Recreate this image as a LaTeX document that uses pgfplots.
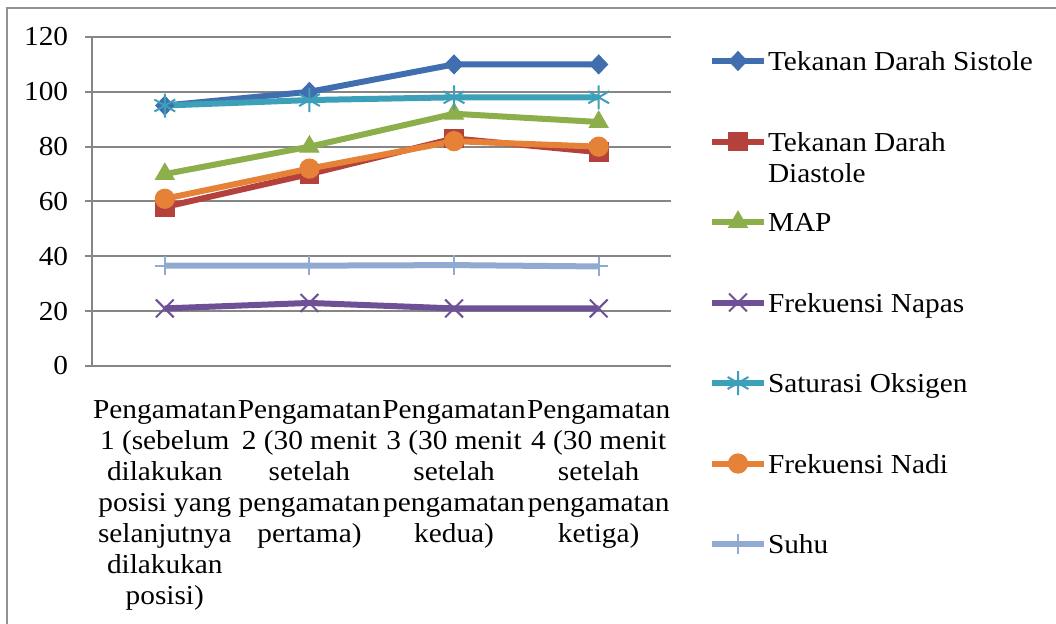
\documentclass[border=0pt]{standalone}
\usepackage{fontspec}
\setmainfont{Liberation Serif}[FakeStretch=1.07]
\usepackage{pgfplots}
\pgfplotsset{compat=1.18}
\definecolor{cSis}{RGB}{65,110,175}
\definecolor{cDia}{RGB}{180,65,60}
\definecolor{cMap}{RGB}{140,175,75}
\definecolor{cNap}{RGB}{110,80,150}
\definecolor{cSat}{RGB}{60,160,185}
\definecolor{cNad}{RGB}{230,130,55}
\definecolor{cSuh}{RGB}{145,170,210}
\definecolor{cGrid}{RGB}{134,134,134}
\newcommand{\chartfont}{\fontsize{13.7pt}{15.5pt}\selectfont}
\begin{document}
\begin{tikzpicture}[font=\chartfont]
\useasboundingbox (0,0) rectangle (528pt,312pt);
\fill[white] (0,0) rectangle (528pt,312pt);
\begin{axis}[
  at={(46.25pt,129pt)}, anchor=south west,
  scale only axis, width=289.25pt, height=164.5pt,
  xmin=-0.5, xmax=3.5, ymin=0, ymax=120,
  ytick={0,20,...,120},
  xtick={0,1,2,3},
  xticklabels={
    {Pengamatan\\1 (sebelum\\dilakukan\\posisi yang\\selanjutnya\\dilakukan\\posisi)},
    {Pengamatan\\2 (30 menit\\setelah\\pengamatan\\pertama)},
    {Pengamatan\\3 (30 menit\\setelah\\pengamatan\\kedua)},
    {Pengamatan\\4 (30 menit\\setelah\\pengamatan\\ketiga)}},
  minor xtick={-0.5,0.5,1.5,2.5,3.5},
  x axis line style={-},
  axis x line*=bottom, axis y line*=left,
  axis line style={cGrid, line width=1pt},
  tick align=outside,
  tick style={cGrid, line width=1pt},
  xtick style={draw=none},
  minor x tick style={cGrid, line width=1pt},
  major tick length=3.5pt, minor tick length=3.5pt,
  ymajorgrids, grid style={cGrid, line width=1pt},
  /pgf/number format/assume math mode=true,
  tick label style={font=\chartfont},
  yticklabel style={inner sep=0pt, xshift=-8.5pt},
  xticklabel style={align=center, inner sep=0pt, anchor=north, yshift=-13.4pt},
  legend cell align=left,
  legend style={at={(1.0657,0.9635)}, anchor=north west, draw=none, fill=none,
    inner xsep=0pt, inner ysep=0pt, outer sep=0pt,
    column sep=0.5pt, row sep=28.25pt,
    nodes={inner sep=0pt, text height=9.5pt, text depth=0pt, font=\chartfont}},
  legend image code/.code={
    \path[draw=none, fill=none] (0pt,-6pt) rectangle (26pt,6pt);
    \draw[mark repeat=2, mark phase=2] plot coordinates {(0pt,0pt) (13pt,0pt) (26pt,0pt)};
  },
  every axis plot/.append style={line width=3pt},
]
\addplot[color=cSis, mark=diamond*, mark size=4.7pt, mark options={solid, xscale=1.27, line width=0.5pt, fill=cSis, draw=cSis}]
  coordinates {(0,95) (1,100) (2,110) (3,110)};
\addlegendentry{Tekanan Darah Sistole}
\addplot[color=cDia, mark=square*, mark size=4.7pt, mark options={solid, line width=0.5pt, fill=cDia, draw=cDia}]
  coordinates {(0,58) (1,70) (2,83) (3,78)};
\addlegendentry{\makebox[0pt][l]{\raisebox{-15.5pt}[0pt][0pt]{Diastole}}Tekanan Darah}
\addplot[color=cMap, mark=triangle*, mark size=5.4pt, mark options={solid, line width=0.5pt, fill=cMap, draw=cMap}]
  coordinates {(0,70) (1,80) (2,92) (3,89)};
\addlegendentry{MAP}
\addplot[color=cNap, mark=x, mark size=6.3pt, mark options={solid, line width=1pt}]
  coordinates {(0,21) (1,23) (2,21) (3,21)};
\addlegendentry{Frekuensi Napas}
\addplot[color=cSat, mark=asterisk, mark size=6pt, mark options={solid, line width=1pt}]
  coordinates {(0,95) (1,97) (2,98) (3,98)};
\addlegendentry{Saturasi Oksigen}
\addplot[color=cNad, mark=*, mark size=4.8pt, mark options={solid, line width=0.5pt, fill=cNad, draw=cNad}]
  coordinates {(0,61) (1,72) (2,82) (3,80)};
\addlegendentry{Frekuensi Nadi}
\addplot[color=cSuh, mark=+, mark size=4.8pt, mark options={solid, line width=1pt}]
  coordinates {(0,36.6) (1,36.6) (2,36.8) (3,36.3)};
\addlegendentry{Suhu}
\end{axis}
\draw[cGrid!90, line width=1pt] (3.25pt,-2pt) -- (3.25pt,308pt) -- (530pt,308pt);
\end{tikzpicture}
\end{document}
